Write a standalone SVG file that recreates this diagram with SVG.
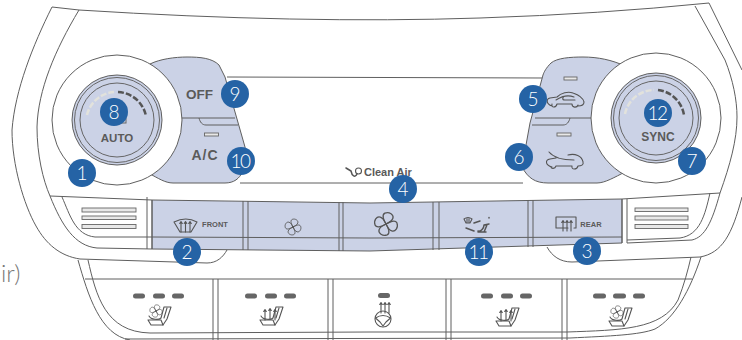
<svg xmlns="http://www.w3.org/2000/svg" xmlns:xlink="http://www.w3.org/1999/xlink" width="742" height="340" viewBox="0 0 742 340">
<style>
.l{fill:none;stroke:#5f5f5f;stroke-width:1}
.p{fill:#cbd2e6;stroke:#5f5f5f;stroke-width:1}
.w{fill:#fff;stroke:#5f5f5f;stroke-width:1}
.r{fill:none;stroke:#666;stroke-width:1}
.i,.i *{fill:none;stroke:#555;stroke-width:1.100;stroke-linecap:round;stroke-linejoin:round;vector-effect:non-scaling-stroke}
.pill{fill:#666}
.b{fill:#2563a5}
.n{fill:#fff;font-family:"Lato","Open Sans",sans-serif;font-weight:300;font-size:19px;text-anchor:middle}
.t{fill:#5a5a5a;font-family:"Liberation Sans",Arial,sans-serif;font-weight:700;text-anchor:middle}
.s{fill:#e8e8e8;stroke:#666;stroke-width:.9}
</style>
<defs>
<path id="petal" d="M0 0C-2-3-4-8-1-9.500C3-11 7-8 6-5C5-2 2-1 0 0Z"/>
<g id="fan" class="i"><use xlink:href="#petal"/><use xlink:href="#petal" transform="rotate(90)"/><use xlink:href="#petal" transform="rotate(180)"/><use xlink:href="#petal" transform="rotate(270)"/></g>
<g id="seat" class="i"><path d="M0 14H13L15 19H3Z"/><path d="M1 10C3 14 11 14 13 12L16 1H23L19 13L15 19"/><path d="M19 2L16 12"/></g>
<g id="heat" class="i"><path d="M0-5V5M-1.300-3.500L0-5.500L1.300-3.500"/></g>
</defs>
<rect width="742" height="340" fill="#fff"/>
<text x="1" y="282" fill="#777" font-family="Lato,'Open Sans',sans-serif" font-weight="300" font-size="24">ir)</text>

<g id="shell">
<path class="l" d="M79 10L52 7C33 45 15 90 12 130C12 165 24 205 36 226C46 244 60 256 80 259L207 263C217 263 223 257 227 250"/>
<path class="l" d="M79 10Q300 24 480 18Q600 14 709 3L742 70"/>
<path class="l" d="M79 10C55 50 38 90 37 127C37 155 43 180 50 196C62 226 75 246 97 248L152 249"/>
<path class="l" d="M50 196L152 200"/>
<path class="l" d="M62 197C70 215 75 235 95 237L152 237"/>
<path class="l" d="M695 6L725 60C733 80 737 100 737 117C737 140 730 165 720 193C712 222 705 237 692 240L627 243"/>
<path class="l" d="M622 199L720 193"/>
<path class="l" d="M710 193C705 215 700 235 680 238L627 240"/>
<path class="l" d="M547 247C552 256 560 262 572 262L700 257C722 253 732 235 742 197"/>
<path class="l" d="M227 77L543 78M240 183H523"/>
</g>

<g id="band">
<path class="p" d="M152 200L370 203L622 199V243L370 251L152 249Z"/>
<path class="l" d="M152 237L370 238L622 237"/>
<path class="l" d="M147 197V249M152 200V249M243 201V250M248 201V250M339 202V251M343 202V251M433 202V250M439 202V250M528 200V247M533 200V247M622 199V243M627 199V243"/>
</g>

<g id="vents">
<rect class="s" x="82" y="208" width="54" height="4"/><rect class="s" x="82" y="216" width="54" height="3.500"/><rect class="s" x="82" y="224.500" width="54" height="4"/>
<rect class="s" x="635" y="208" width="53" height="3.500"/><rect class="s" x="635" y="216" width="53" height="4"/><rect class="s" x="635" y="224.500" width="53" height="4"/>
</g>

<g id="lower">
<path class="l" d="M78 260C88 295 100 335 130 340"/>
<path class="l" d="M88 260C96 295 105 332 150 333L370 332L567 332C620 330 662 330 678 300C684 285 688 270 691 257"/>
<path class="l" d="M85 279H692"/>
<path class="l" d="M125 339L570 338C610 336 640 335 655 329C675 318 690 290 701 257"/>
<path class="l" d="M213 279V340M218 279V340M328 279V340M333 279V340M446 279V340M451 279V340M562 279V340M567 279V340" stroke="#777"/>
<g class="pill">
<rect x="133" y="293.500" width="12" height="5" rx="2.500"/><rect x="153" y="293.500" width="12" height="5" rx="2.500"/><rect x="172" y="293.500" width="12" height="5" rx="2.500"/>
<rect x="245" y="293.500" width="12" height="5" rx="2.500"/><rect x="265" y="293.500" width="12" height="5" rx="2.500"/><rect x="284" y="293.500" width="12" height="5" rx="2.500"/>
<rect x="378" y="293" width="12" height="5" rx="2.500"/>
<rect x="481" y="293.500" width="12" height="5" rx="2.500"/><rect x="501" y="293.500" width="12" height="5" rx="2.500"/><rect x="520" y="293.500" width="12" height="5" rx="2.500"/>
<rect x="593" y="293.500" width="13" height="5" rx="2.500"/><rect x="613" y="293.500" width="13" height="5" rx="2.500"/><rect x="633" y="293.500" width="12" height="5" rx="2.500"/>
</g>
<use xlink:href="#seat" x="148" y="306"/><use xlink:href="#fan" transform="translate(156 311) scale(.62)"/>
<use xlink:href="#seat" x="260" y="306"/><use xlink:href="#heat" x="265" y="315"/><use xlink:href="#heat" x="270" y="314"/><use xlink:href="#heat" x="275" y="315"/>
<g class="i"><circle cx="383" cy="319" r="8"/><path d="M375.500 318Q383 313 390.500 318L386 322L383 326L380 322Z"/></g>
<use xlink:href="#heat" x="381" y="308"/><use xlink:href="#heat" x="385" y="308"/><use xlink:href="#heat" x="389" y="308"/>
<use xlink:href="#seat" x="496" y="307"/><use xlink:href="#heat" x="501" y="316"/><use xlink:href="#heat" x="506" y="315"/><use xlink:href="#heat" x="511" y="316"/>
<use xlink:href="#seat" x="609" y="307"/><use xlink:href="#fan" transform="translate(617 312) scale(.62)"/>
</g>

<g id="left-panel">
<path class="p" d="M150 64C160 59 175 57 187 57C200 57 212 58 219 65L225 77L245 147C247 165 243 183 225 183H173C165 183 158 178 150 174Z"/>
<path class="l" d="M175 118H235M199 118C200 122 202 125 206 125H238"/>
<rect class="s" x="204.500" y="133" width="14" height="3"/>
<text class="t" x="199.500" y="99" font-size="13.500">OFF</text>
<text class="t" x="205" y="160" font-size="14" letter-spacing="1">A/C</text>
</g>

<g id="right-panel">
<path class="p" d="M625 66C612 60 598 57 583 57C570 57 557 58 551 63C546 68 544 72 543 75L530 123L522 167C528 178 535 183 548 183H597C605 183 615 177 625 172Z"/>
<path class="l" d="M535 118H595M570 118C569 122 567 125 563 125H532"/>
<rect class="s" x="564" y="77" width="13" height="3"/>
<rect class="s" x="557" y="133" width="14" height="3"/>
<g class="i"><path d="M552 106C546 104 546 99 550 98L557 97C561 93 568 91 573 93C579 95 583 98 584 102C584 105 581 106 578 106M572 104H557M557 104C556 108 551 108 552 104M578 105C577 108 572 108 572 104M556 100C562 96 569 95 574 97M575 100H565C562 100 562 97 565 96"/></g>
<g class="i"><path d="M552 167C545 165 545 160 550 159L556 158M568 155C575 153 582 156 583 162C584 165 581 166 578 166M572 166H556M549 152C554 158 562 160 574 160M556 166C555 169 551 169 551 167M578 166C577 170 571 170 572 166"/></g>
</g>

<g id="knob-left">
<circle class="w" cx="117" cy="120" r="65"/>
<circle class="p" cx="117" cy="120" r="45"/><circle class="r" cx="117" cy="120" r="42.500"/><circle class="r" cx="117" cy="120" r="37"/>
<path d="M87 115A30 30 0 0 1 114 92" fill="none" stroke="#e2e2dc" stroke-width="2.500" stroke-dasharray="6 2"/>
<path d="M118 92A30 30 0 0 1 146 116" fill="none" stroke="#555" stroke-width="2.500" stroke-dasharray="6 2"/>
<rect x="120" y="118" width="6" height="5" fill="none" stroke="#666"/>
<text class="t" x="117" y="142" font-size="11.500">AUTO</text>
</g>

<g id="knob-right">
<circle class="w" cx="656" cy="118" r="65"/>
<circle class="p" cx="656" cy="118" r="45"/><circle class="r" cx="656" cy="118" r="42.500"/><circle class="r" cx="656" cy="118" r="37"/>
<path d="M625 114A30 30 0 0 1 654 90" fill="none" stroke="#e2e2dc" stroke-width="2.500" stroke-dasharray="6 2"/>
<path d="M658 90A30 30 0 0 1 684 115" fill="none" stroke="#555" stroke-width="2.500" stroke-dasharray="6 2"/>
<text class="t" x="658" y="141" font-size="12">SYNC</text>
</g>

<g id="band-icons">
<g class="i"><path d="M174 222Q186 216 197 222L191 232H180Z"/></g>
<use xlink:href="#heat" x="181" y="227"/><use xlink:href="#heat" x="185.500" y="227"/><use xlink:href="#heat" x="190" y="227"/>
<text class="t" x="215" y="227" font-size="7.500" font-weight="400">FRONT</text>
<use xlink:href="#fan" transform="translate(293 227) scale(.8)"/>
<use xlink:href="#fan" transform="translate(386 224) scale(1.150)"/>
<g class="i"><path d="M464 219Q468 216 472 219L470 223H466ZM467 218V222M469 218V222"/></g>
<g class="i"><path style="stroke-width:1.500" d="M474 223L480 221M466 228L474 231M478 231C481 232 484 228 484 225L489 224M486 232H478M487 225L484 232M489 217.500V218"/></g>
<g class="i"><path d="M568 228H556V217H576V228H574"/></g>
<use xlink:href="#heat" x="563" y="226"/><use xlink:href="#heat" x="567" y="226"/><use xlink:href="#heat" x="571" y="226"/>
<text class="t" x="591" y="226.500" font-size="7.500" font-weight="400">REAR</text>
</g>

<g id="clean-air">
<g class="i"><path style="stroke-width:1.500" d="M346 168L351 171C352 176 355 178 357 174"/><circle cx="358.500" cy="171" r="3"/></g>
<text x="364" y="176" fill="#5a5a5a" font-family="'Liberation Sans',Arial,sans-serif" font-weight="700" font-size="11">Clean Air</text>
</g>

<g id="badge-1"><circle class="b" cx="82" cy="173" r="14"/><text class="n" x="82" y="180">1</text></g>
<g id="badge-2"><circle class="b" cx="187" cy="252" r="14"/><text class="n" x="187" y="259">2</text></g>
<g id="badge-3"><circle class="b" cx="587" cy="251" r="14"/><text class="n" x="587" y="258">3</text></g>
<g id="badge-4"><circle class="b" cx="403" cy="189" r="14"/><text class="n" x="403" y="196">4</text></g>
<g id="badge-5"><circle class="b" cx="533" cy="99" r="14"/><text class="n" x="533" y="106">5</text></g>
<g id="badge-6"><circle class="b" cx="519" cy="157" r="14"/><text class="n" x="519" y="164">6</text></g>
<g id="badge-7"><circle class="b" cx="692" cy="161" r="14"/><text class="n" x="692" y="168">7</text></g>
<g id="badge-8"><circle class="b" cx="114" cy="112" r="14"/><text class="n" x="114" y="119">8</text></g>
<g id="badge-9"><circle class="b" cx="235" cy="94" r="14"/><text class="n" x="235" y="101">9</text></g>
<g id="badge-10"><circle class="b" cx="241" cy="161" r="14"/><text class="n" x="240" y="168" letter-spacing="-1.500">10</text></g>
<g id="badge-11"><circle class="b" cx="479" cy="252" r="14"/><text class="n" x="478" y="259" letter-spacing="-1.500">11</text></g>
<g id="badge-12"><circle class="b" cx="658" cy="113" r="14"/><text class="n" x="657" y="120" letter-spacing="-1.500">12</text></g>
</svg>
